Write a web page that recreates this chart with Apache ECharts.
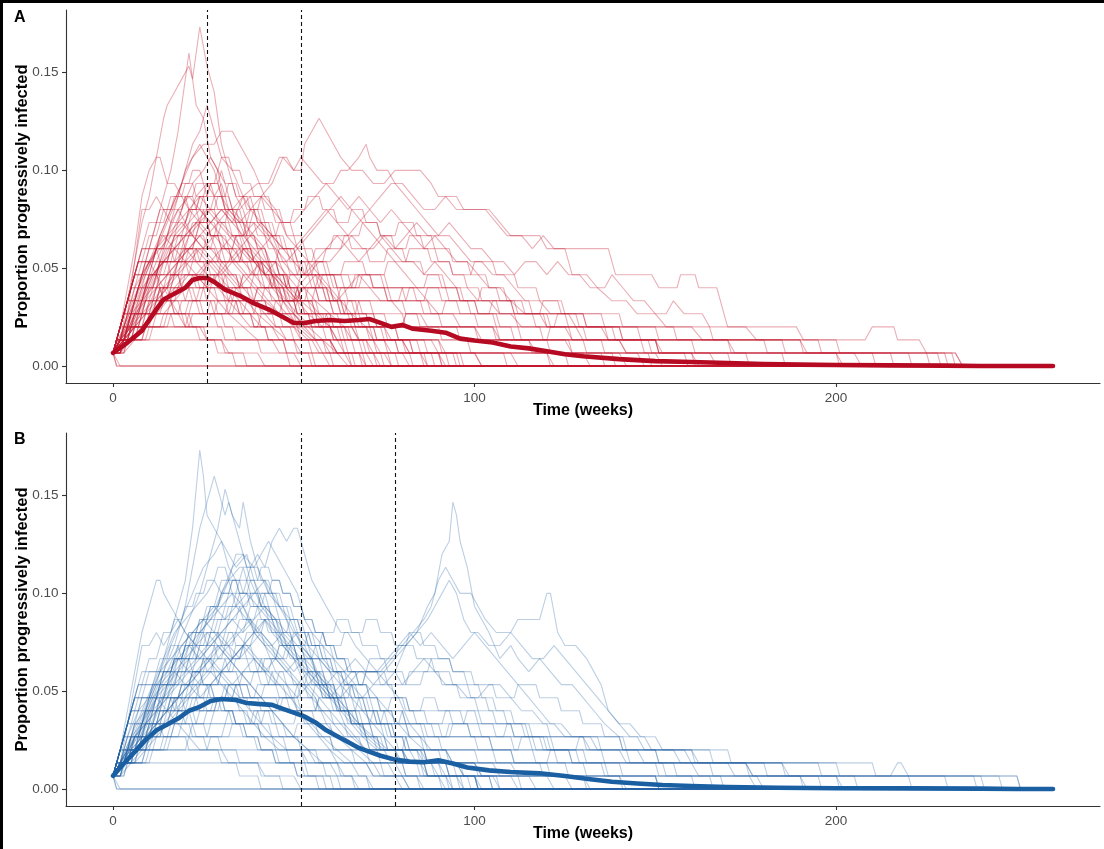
<!DOCTYPE html>
<html>
<head>
<meta charset="utf-8">
<script src="https://cdn.jsdelivr.net/npm/echarts@6/dist/echarts.min.js"></script>
<style>
  html, body { margin: 0; padding: 0; background: #fff; }
  #chart { width: 1104px; height: 849px; }
  #frame { position: absolute; left: 0; top: 0; width: 1104px; height: 849px;
           border-left: 3px solid #000; border-top: 3px solid #000;
           box-sizing: border-box; pointer-events: none; }
</style>
</head>
<body>
<div id="chart"></div>
<div id="frame"></div>
<script>
// Population size: simulated counts of progressively infected animals are divided by this.
const POP = 150;

// Tick labels
const xTicks = [0, 100, 200];
const yTicks = [0, 0.05, 0.10, 0.15];

// Vertical reference weeks for each scenario
const markWeeksA = [26, 52];
const markWeeksB = [52, 78];

// Mean trajectory, scenario A (week, proportion)
const meanWeeksA = [0, 4, 8, 12, 14, 16, 18, 20, 22, 24, 26, 28, 31, 35, 39, 43, 47, 50, 53, 56, 60, 64, 68, 71, 74, 77, 80, 83, 88, 92, 96, 100, 105, 110, 115, 120, 125, 130, 140, 150, 160, 170, 180, 190, 200, 215, 230, 240, 260];
const meanValuesA = [0.0067, 0.012, 0.018, 0.029, 0.034, 0.036, 0.038, 0.040, 0.044, 0.045, 0.045, 0.043, 0.039, 0.036, 0.032, 0.029, 0.025, 0.022, 0.022, 0.023, 0.0235, 0.023, 0.0235, 0.024, 0.022, 0.020, 0.021, 0.019, 0.018, 0.017, 0.014, 0.013, 0.012, 0.010, 0.009, 0.0075, 0.006, 0.005, 0.0035, 0.0025, 0.002, 0.0015, 0.001, 0.0007, 0.0005, 0.0003, 0.0002, 0, 0];

// Mean trajectory, scenario B (week, proportion)
const meanWeeksB = [0, 3, 6, 9, 12, 15, 18, 21, 24, 27, 30, 34, 37, 40, 44, 47, 50, 53, 56, 59, 62, 65, 68, 71, 74, 78, 82, 86, 90, 94, 98, 104, 110, 118, 125, 132, 138, 145, 152, 160, 170, 184, 200, 220, 240, 250, 260];
const meanValuesB = [0.0067, 0.013, 0.019, 0.025, 0.030, 0.033, 0.036, 0.040, 0.042, 0.045, 0.046, 0.0455, 0.044, 0.0435, 0.043, 0.041, 0.039, 0.037, 0.034, 0.030, 0.027, 0.024, 0.021, 0.019, 0.017, 0.015, 0.014, 0.0137, 0.0147, 0.013, 0.011, 0.0095, 0.0087, 0.008, 0.0066, 0.005, 0.0037, 0.0028, 0.002, 0.0015, 0.001, 0.0006, 0.0004, 0.0003, 0.0002, 0, 0];

// Individual simulation runs, scenario A: flat lists of week, count pairs
const runsA = [
  [0,1, 2,2, 4,4, 6,8, 8,11, 10,13, 12,16, 14,19, 15,20, 17,21, 19,22, 21,23, 22,22, 24,26, 26,23, 28,21, 30,17, 32,15, 34,13, 36,12, 38,10, 41,9, 44,7, 47,6, 50,4, 54,3, 58,2, 62,1, 65,0, 260,0],
  [0,1, 3,3, 6,5, 9,8, 12,11, 14,13, 16,15, 18,18, 20,22, 21,24, 23,20, 25,19, 27,16, 29,15, 31,12, 34,11, 37,9, 40,8, 44,6, 47,5, 51,3, 55,2, 60,2, 62,1, 70,1, 72,0, 260,0],
  [0,1, 2,1, 4,3, 7,5, 10,7, 13,10, 16,12, 19,14, 22,17, 24,18, 26,20, 28,18, 30,16, 33,15, 36,13, 38,13, 40,11, 43,10, 46,8, 49,6, 52,5, 56,4, 60,3, 66,3, 68,2, 80,2, 82,1, 95,1, 96,0, 260,0],
  [0,1, 3,2, 6,4, 9,6, 12,8, 15,10, 18,11, 21,12, 24,13, 27,12, 30,12, 33,11, 36,13, 40,14, 43,14, 46,16, 48,16, 50,15, 52,15, 53,17, 57,19, 59,18, 61,17, 63,16, 66,15, 69,15, 72,14, 75,14, 78,15, 82,15, 85,15, 88,14, 90,13, 95,13, 97,12, 100,12, 103,12, 106,11, 109,10, 113,10, 118,10, 120,9, 124,9, 127,9, 131,9, 134,9, 137,9, 139,7, 146,7, 149,7, 151,6, 156,6, 157,7, 161,7, 162,6, 167,6, 170,3, 181,3, 189,3, 191,2, 197,2, 200,2, 208,2, 210,3, 216,3, 217,2, 223,2, 225,1, 233,1, 235,0, 260,0],
  [0,1, 2,2, 5,3, 8,5, 11,7, 14,8, 17,9, 20,10, 23,11, 26,12, 29,11, 32,12, 35,12, 38,13, 41,13, 44,12, 47,11, 50,11, 53,12, 56,13, 59,14, 62,13, 65,12, 68,13, 71,12, 74,13, 77,14, 80,14, 83,13, 86,12, 89,12, 92,13, 95,12, 98,12, 101,12, 104,12, 107,11, 110,10, 113,10, 116,9, 119,10, 122,9, 125,9, 127,7, 131,7, 134,6, 138,5, 142,5, 145,4, 150,4, 153,3, 160,3, 163,2, 170,2, 172,1, 200,1, 202,0, 260,0],
  [0,1, 2,2, 4,3, 7,6, 10,8, 13,10, 16,12, 19,14, 22,16, 25,17, 28,17, 30,18, 33,18, 35,17, 37,16, 39,15, 42,13, 45,12, 48,10, 51,9, 54,8, 57,7, 60,6, 63,5, 66,4, 70,3, 75,3, 77,2, 88,2, 90,1, 100,1, 102,0, 260,0],
  [0,1, 3,2, 6,3, 9,4, 12,6, 15,7, 18,8, 21,9, 24,10, 27,11, 30,12, 33,12, 36,13, 38,12, 41,13, 44,14, 47,16, 50,15, 52,16, 55,15, 58,14, 61,14, 63,15, 65,15, 68,16, 70,17, 71,16, 73,15, 76,15, 78,14, 81,13, 84,12, 87,11, 90,10, 93,10, 96,9, 99,8, 102,8, 105,7, 108,7, 111,6, 114,5, 118,5, 121,4, 126,4, 128,3, 135,3, 137,2, 150,2, 152,1, 165,1, 167,0, 260,0],
  [0,1, 2,2, 5,4, 8,5, 11,7, 14,8, 17,9, 20,10, 23,11, 26,10, 29,11, 32,10, 35,9, 38,10, 41,11, 44,10, 47,9, 50,9, 53,10, 56,11, 59,12, 62,11, 65,10, 68,11, 71,12, 74,11, 77,12, 80,11, 83,10, 86,9, 89,10, 92,9, 95,8, 98,8, 101,7, 104,6, 107,6, 110,5, 114,4, 118,4, 120,3, 128,3, 130,2, 140,2, 142,1, 150,1, 152,0, 260,0],
  [0,1, 2,3, 4,6, 6,9, 8,13, 10,15, 12,16, 13,16, 15,14, 17,14, 19,13, 21,12, 24,11, 27,10, 30,8, 33,7, 36,6, 39,5, 42,4, 45,3, 50,3, 52,2, 58,2, 60,1, 64,1, 66,0, 260,0],
  [0,1, 2,2, 4,5, 6,8, 8,12, 10,12, 12,13, 14,12, 16,11, 18,12, 20,11, 22,10, 25,9, 28,8, 31,7, 34,6, 37,5, 40,4, 44,3, 48,2, 55,2, 57,1, 75,1, 77,0, 260,0],
  [0,1, 3,2, 6,4, 9,7, 12,9, 15,11, 18,13, 20,15, 22,16, 24,17, 26,16, 28,15, 30,13, 32,12, 35,11, 38,9, 41,8, 44,7, 47,5, 50,4, 53,3, 56,2, 62,2, 64,1, 80,1, 82,0, 260,0],
  [0,1, 2,1, 4,2, 7,4, 10,6, 13,8, 16,10, 19,12, 22,14, 25,15, 27,16, 29,15, 31,14, 33,12, 36,11, 39,10, 42,9, 45,7, 48,6, 51,5, 54,4, 58,3, 64,3, 66,2, 72,2, 74,1, 85,1, 87,0, 260,0],
  [0,1, 2,2, 5,3, 8,5, 11,6, 14,8, 17,10, 20,11, 23,13, 26,14, 28,13, 30,14, 32,12, 35,11, 38,12, 41,11, 44,10, 47,8, 50,7, 53,6, 56,5, 60,4, 64,3, 70,3, 72,2, 90,2, 92,1, 110,1, 112,0, 260,0],
  [0,1, 3,3, 6,5, 9,7, 12,9, 15,10, 18,12, 21,13, 24,12, 27,11, 30,10, 33,9, 36,8, 39,7, 42,6, 45,5, 48,4, 52,3, 56,2, 60,2, 62,1, 68,1, 70,0, 260,0],
  [0,1, 2,2, 4,4, 7,6, 10,8, 13,9, 16,10, 19,11, 22,10, 25,9, 28,10, 31,9, 34,8, 37,7, 40,6, 43,5, 46,4, 50,3, 54,2, 60,2, 62,1, 72,1, 74,0, 260,0],
  [0,1, 3,2, 6,3, 9,5, 12,6, 15,7, 18,8, 21,9, 24,10, 27,9, 30,8, 33,8, 36,7, 39,6, 42,5, 46,4, 50,4, 53,3, 60,3, 62,2, 70,2, 72,1, 90,1, 92,0, 260,0],
  [0,1, 2,2, 5,4, 8,6, 11,7, 14,8, 17,8, 20,9, 23,8, 26,7, 29,6, 32,5, 35,4, 38,3, 44,3, 46,2, 50,2, 52,1, 58,1, 60,0, 260,0],
  [0,1, 3,1, 6,2, 9,3, 12,5, 15,6, 18,8, 21,10, 24,11, 27,12, 30,11, 33,10, 36,9, 39,8, 42,7, 45,6, 48,5, 51,4, 55,3, 60,3, 62,2, 80,2, 82,1, 100,1, 102,0, 260,0],
  [0,1, 2,2, 4,3, 6,5, 8,7, 10,8, 12,9, 14,10, 17,9, 20,8, 23,7, 26,6, 29,5, 32,4, 36,3, 40,2, 44,2, 46,1, 50,1, 52,0, 260,0],
  [0,1, 3,2, 6,4, 9,5, 12,7, 15,9, 18,10, 21,11, 24,12, 27,11, 30,12, 33,11, 36,10, 39,9, 42,8, 45,7, 48,6, 51,5, 54,5, 57,4, 60,3, 66,3, 68,2, 75,2, 77,1, 120,1, 122,0, 260,0],
  [0,1, 2,2, 4,4, 6,6, 8,7, 10,8, 12,7, 14,6, 16,5, 18,4, 20,3, 24,3, 26,2, 30,2, 32,1, 40,1, 42,0, 260,0],
  [0,1, 2,2, 5,3, 8,4, 11,5, 14,6, 17,7, 20,8, 23,9, 26,8, 29,7, 32,6, 35,5, 38,4, 41,3, 46,3, 48,2, 56,2, 58,1, 140,1, 142,0, 260,0],
  [0,1, 3,2, 6,3, 9,3, 12,4, 15,5, 18,6, 21,7, 24,7, 27,8, 30,9, 33,10, 36,10, 39,11, 42,10, 45,9, 48,8, 51,9, 54,10, 57,11, 60,12, 63,13, 66,12, 69,11, 72,10, 75,9, 78,8, 81,7, 84,6, 87,5, 90,4, 94,4, 96,3, 105,3, 107,2, 125,2, 127,1, 145,1, 147,0, 260,0],
  [0,1, 2,2, 5,2, 8,3, 11,4, 14,5, 17,6, 20,7, 23,7, 26,6, 29,7, 32,8, 35,9, 38,8, 41,9, 44,10, 47,9, 50,8, 53,7, 56,8, 59,9, 62,10, 65,9, 68,8, 71,9, 74,10, 77,9, 80,8, 83,8, 86,7, 89,8, 92,7, 95,6, 98,6, 101,5, 104,5, 107,4, 110,4, 113,3, 125,3, 127,2, 140,2, 142,1, 160,1, 162,0, 260,0],
  [0,1, 3,2, 6,3, 9,4, 12,5, 15,6, 18,7, 21,8, 24,9, 27,8, 30,7, 33,8, 36,9, 39,8, 42,7, 45,8, 48,7, 51,6, 54,7, 57,8, 60,8, 63,9, 66,10, 69,9, 72,9, 75,10, 78,9, 81,10, 84,11, 87,10, 90,10, 93,11, 96,10, 99,9, 102,9, 105,8, 108,8, 111,7, 114,8, 117,8, 120,7, 123,8, 126,7, 129,7, 132,6, 136,6, 138,7, 141,6, 144,5, 147,5, 150,4, 153,4, 155,5, 158,4, 163,4, 165,3, 175,3, 178,2, 190,2, 192,1, 205,1, 207,0, 260,0],
  [0,1, 2,1, 5,2, 8,3, 11,4, 14,4, 17,5, 20,6, 23,7, 26,8, 29,8, 32,7, 35,6, 38,7, 41,8, 44,7, 47,6, 50,5, 53,6, 56,7, 59,6, 62,5, 65,6, 68,7, 71,6, 74,5, 77,5, 80,4, 85,4, 87,3, 100,3, 102,2, 115,2, 117,1, 130,1, 132,0, 260,0],
  [0,1, 1,2, 3,2, 4,3, 30,3, 31,2, 90,2, 91,1, 175,1, 176,0, 260,0],
  [0,1, 1,0, 260,0],
  [0,1, 2,1, 3,2, 4,3, 5,4, 40,4, 41,3, 70,3, 71,2, 130,2, 131,1, 220,1, 221,0, 260,0],
  [0,1, 1,2, 2,3, 3,4, 4,5, 55,5, 56,4, 80,4, 81,3, 110,3, 111,2, 180,2, 181,1, 233,1, 235,0, 260,0],
  [0,1, 1,2, 2,3, 3,4, 4,5, 5,6, 6,7, 7,8, 40,8, 41,7, 60,7, 61,6, 75,6, 76,5, 100,5, 101,4, 120,4, 121,3, 150,3, 151,2, 200,2, 201,1, 230,1, 231,0, 260,0],
  [0,1, 1,2, 2,3, 3,4, 4,5, 5,6, 30,6, 31,5, 50,5, 51,4, 65,4, 66,3, 95,3, 96,2, 160,2, 161,1, 215,1, 216,0, 260,0],
  [0,1, 1,1, 2,2, 50,2, 51,1, 120,1, 121,0, 260,0],
  [0,1, 1,2, 2,3, 3,4, 4,5, 5,6, 6,7, 25,7, 26,6, 45,6, 46,5, 85,5, 86,4, 125,4, 126,3, 145,3, 146,2, 190,2, 191,1, 228,1, 229,0, 260,0],
  [0,1, 2,0, 260,0],
  [0,1, 1,2, 2,3, 3,4, 60,4, 61,3, 100,3, 101,2, 150,2, 151,1, 200,1, 201,0, 260,0],
  [0,1, 1,2, 3,2, 4,3, 6,3, 7,4, 9,4, 10,5, 12,5, 13,6, 14,5, 16,5, 17,6, 19,6, 20,7, 22,7, 23,6, 25,6, 26,5, 28,5, 29,4, 31,4, 32,5, 34,5, 35,4, 38,4, 39,3, 42,3, 43,2, 47,2, 48,1, 55,1, 56,0, 260,0],
  [0,1, 1,2, 2,3, 3,4, 5,4, 6,5, 7,6, 9,6, 10,7, 12,7, 13,8, 15,8, 16,9, 17,8, 19,8, 20,9, 22,9, 23,10, 25,10, 26,9, 28,9, 29,8, 31,8, 32,7, 34,7, 35,6, 37,6, 38,5, 40,5, 41,4, 44,4, 45,3, 49,3, 50,2, 54,2, 55,1, 60,1, 61,0, 260,0],
  [0,1, 2,1, 3,2, 5,2, 6,3, 8,3, 9,4, 11,4, 12,5, 13,6, 15,6, 16,7, 18,7, 19,8, 20,9, 22,9, 23,10, 24,11, 26,11, 27,10, 29,10, 30,9, 32,9, 33,8, 35,8, 36,9, 38,9, 39,8, 41,8, 42,7, 45,7, 46,6, 48,6, 49,5, 52,5, 53,4, 56,4, 57,3, 62,3, 63,2, 70,2, 71,1, 78,1, 79,0, 260,0],
  [0,1, 1,2, 2,3, 3,4, 4,5, 6,5, 7,6, 8,7, 10,7, 11,8, 12,9, 14,9, 15,10, 16,11, 18,11, 19,12, 20,13, 22,13, 23,12, 25,12, 26,11, 28,11, 29,10, 31,10, 32,9, 34,9, 35,8, 37,8, 38,7, 40,7, 41,6, 43,6, 44,5, 46,5, 47,4, 50,4, 51,3, 55,3, 56,2, 60,2, 61,1, 66,1, 67,0, 260,0],
  [0,1, 2,2, 4,2, 5,3, 7,3, 8,4, 10,4, 11,5, 13,5, 14,6, 16,6, 17,7, 18,8, 20,8, 21,9, 23,9, 24,8, 26,8, 27,7, 29,7, 30,8, 32,8, 33,9, 35,9, 36,8, 38,8, 39,7, 41,7, 42,6, 44,6, 45,7, 47,7, 48,6, 50,6, 51,5, 53,5, 54,6, 56,6, 57,5, 60,5, 61,4, 64,4, 65,5, 67,5, 68,4, 72,4, 73,3, 78,3, 79,2, 86,2, 87,1, 96,1, 97,0, 260,0],
  [0,1, 2,2, 4,2, 5,3, 8,3, 9,4, 12,4, 13,5, 16,5, 17,4, 20,4, 21,5, 24,5, 25,6, 28,6, 29,5, 32,5, 33,6, 35,6, 36,7, 39,7, 40,8, 43,8, 44,7, 47,7, 48,6, 51,6, 52,7, 55,7, 56,8, 59,8, 60,7, 63,7, 64,6, 67,6, 68,7, 71,7, 72,6, 75,6, 76,5, 79,5, 80,6, 83,6, 84,5, 87,5, 88,4, 91,4, 92,5, 95,5, 96,4, 100,4, 101,3, 106,3, 107,2, 115,2, 116,1, 125,1, 126,0, 260,0],
  [0,1, 1,2, 3,2, 4,3, 6,3, 7,4, 9,4, 10,5, 12,5, 13,6, 15,6, 16,7, 18,7, 19,6, 22,6, 23,5, 26,5, 27,6, 30,6, 31,7, 34,7, 35,6, 38,6, 39,5, 42,5, 43,4, 46,4, 47,5, 50,5, 51,4, 54,4, 55,3, 58,3, 59,4, 62,4, 63,3, 67,3, 68,2, 75,2, 76,1, 85,1, 86,0, 260,0],
  [0,1, 1,2, 2,3, 4,3, 5,4, 6,5, 8,5, 9,6, 10,7, 12,7, 13,8, 15,8, 16,9, 18,9, 19,10, 21,10, 22,11, 24,11, 25,12, 27,12, 28,13, 30,13, 31,12, 33,12, 34,11, 36,11, 37,10, 39,10, 40,9, 42,9, 43,8, 45,8, 46,7, 48,7, 49,6, 51,6, 52,5, 55,5, 56,4, 59,4, 60,3, 64,3, 65,2, 69,2, 70,1, 74,1, 75,0, 260,0],
  [0,1, 2,1, 3,2, 8,2, 9,3, 14,3, 15,4, 20,4, 21,3, 26,3, 27,4, 32,4, 33,5, 38,5, 39,4, 44,4, 45,5, 50,5, 51,6, 56,6, 57,5, 62,5, 63,6, 68,6, 69,7, 74,7, 75,6, 80,6, 81,5, 86,5, 87,6, 92,6, 93,5, 98,5, 99,4, 104,4, 105,5, 110,5, 111,4, 116,4, 117,3, 122,3, 123,4, 128,4, 129,3, 136,3, 137,2, 146,2, 147,1, 160,1, 161,0, 260,0],
  [0,1, 1,2, 2,3, 3,4, 4,5, 5,6, 7,6, 8,7, 9,8, 11,8, 12,9, 13,10, 15,10, 16,11, 17,12, 19,12, 20,13, 22,13, 23,14, 25,14, 26,13, 28,13, 29,12, 31,12, 32,11, 34,11, 35,10, 37,10, 38,9, 40,9, 41,8, 43,8, 44,7, 46,7, 47,6, 49,6, 50,5, 52,5, 53,4, 56,4, 57,3, 60,3, 61,2, 64,2, 65,1, 69,1, 70,0, 260,0],
  [0,1, 1,2, 2,3, 3,4, 4,5, 5,6, 6,7, 7,8, 9,8, 10,9, 12,9, 13,8, 15,8, 16,7, 18,7, 19,6, 21,6, 22,5, 24,5, 25,4, 28,4, 29,3, 33,3, 34,2, 40,2, 41,1, 48,1, 49,0, 260,0],
  [0,1, 2,2, 4,2, 5,3, 7,3, 8,4, 10,4, 11,5, 13,5, 14,6, 16,6, 17,7, 19,7, 20,8, 22,8, 23,9, 25,9, 26,10, 28,10, 29,11, 31,11, 32,12, 34,12, 35,11, 37,11, 38,12, 40,12, 41,11, 43,11, 44,10, 46,10, 47,9, 49,9, 50,8, 52,8, 53,7, 55,7, 56,6, 58,6, 59,5, 62,5, 63,4, 66,4, 67,3, 72,3, 73,2, 80,2, 81,1, 90,1, 91,0, 260,0],
  [0,1, 2,2, 5,2, 6,3, 10,3, 11,4, 15,4, 16,5, 20,5, 21,6, 25,6, 26,7, 30,7, 31,6, 35,6, 36,7, 40,7, 41,8, 45,8, 46,9, 50,9, 51,8, 55,8, 56,9, 60,9, 61,10, 65,10, 66,9, 70,9, 71,8, 75,8, 76,9, 80,9, 81,8, 85,8, 86,7, 90,7, 91,6, 95,6, 96,5, 100,5, 101,4, 106,4, 107,3, 112,3, 113,2, 120,2, 121,1, 135,1, 136,0, 260,0],
  [0,1, 1,2, 2,3, 3,4, 4,5, 6,5, 7,6, 9,6, 10,7, 12,7, 13,6, 15,6, 16,5, 18,5, 19,4, 21,4, 22,3, 25,3, 26,2, 30,2, 31,1, 36,1, 37,0, 260,0],
  [0,1, 1,2, 3,2, 4,3, 5,4, 7,4, 8,5, 9,6, 11,6, 12,7, 13,8, 15,8, 16,9, 17,10, 19,10, 20,11, 21,12, 23,12, 24,13, 26,13, 27,14, 29,14, 30,15, 31,14, 33,14, 34,13, 36,13, 37,12, 39,12, 40,11, 42,11, 43,10, 45,10, 46,9, 48,9, 49,8, 51,8, 52,7, 54,7, 55,6, 58,6, 59,5, 62,5, 63,4, 66,4, 67,3, 71,3, 72,2, 78,2, 79,1, 88,1, 89,0, 260,0],
  [0,1, 3,1, 4,2, 9,2, 10,3, 15,3, 16,4, 21,4, 22,5, 27,5, 28,4, 33,4, 34,5, 39,5, 40,6, 45,6, 46,5, 51,5, 52,6, 57,6, 58,7, 63,7, 64,8, 69,8, 70,7, 75,7, 76,8, 81,8, 82,9, 87,9, 88,8, 93,8, 94,7, 99,7, 100,8, 105,8, 106,7, 111,7, 112,6, 117,6, 118,5, 123,5, 124,4, 130,4, 131,3, 140,3, 141,2, 150,2, 151,1, 170,1, 171,0, 260,0],
  [0,1, 1,2, 2,3, 3,4, 4,5, 5,6, 6,7, 7,8, 8,9, 10,9, 11,10, 12,11, 14,11, 15,12, 17,12, 18,13, 20,13, 21,12, 23,12, 24,11, 26,11, 27,10, 29,10, 30,11, 32,11, 33,10, 35,10, 36,9, 38,9, 39,8, 41,8, 42,7, 44,7, 45,6, 47,6, 48,5, 51,5, 52,4, 55,4, 56,3, 60,3, 61,2, 66,2, 67,1, 72,1, 73,0, 260,0],
  [0,1, 2,2, 3,3, 5,3, 6,4, 8,4, 9,5, 11,5, 12,6, 14,6, 15,7, 17,7, 18,8, 20,8, 21,7, 23,7, 24,6, 26,6, 27,7, 29,7, 30,6, 32,6, 33,5, 35,5, 36,4, 39,4, 40,5, 42,5, 43,4, 46,4, 47,3, 51,3, 52,2, 58,2, 59,1, 65,1, 66,0, 260,0],
  [0,1, 1,2, 3,2, 4,3, 7,3, 8,4, 11,4, 12,5, 15,5, 16,6, 19,6, 20,5, 23,5, 24,6, 27,6, 28,7, 31,7, 32,6, 35,6, 36,5, 39,5, 40,6, 43,6, 44,7, 47,7, 48,6, 51,6, 52,5, 55,5, 56,6, 59,6, 60,5, 63,5, 64,4, 67,4, 68,5, 71,5, 72,4, 75,4, 76,3, 80,3, 81,4, 84,4, 85,3, 90,3, 91,2, 98,2, 99,1, 108,1, 109,0, 260,0],
  [0,1, 1,2, 2,3, 3,4, 4,5, 5,6, 6,7, 7,8, 8,9, 9,10, 10,11, 12,11, 13,12, 15,12, 16,13, 18,13, 19,14, 21,14, 22,15, 24,15, 25,14, 27,14, 28,13, 30,13, 31,12, 33,12, 34,11, 36,11, 37,10, 39,10, 40,9, 42,9, 43,8, 45,8, 46,7, 48,7, 49,6, 51,6, 52,5, 54,5, 55,4, 58,4, 59,3, 63,3, 64,2, 68,2, 69,1, 76,1, 77,0, 260,0],
  [0,1, 2,1, 3,2, 6,2, 7,3, 9,3, 10,4, 12,4, 13,5, 15,5, 16,6, 18,6, 19,7, 21,7, 22,8, 24,8, 25,9, 27,9, 28,10, 30,10, 31,9, 33,9, 34,10, 36,10, 37,11, 39,11, 40,10, 42,10, 43,9, 45,9, 46,8, 48,8, 49,7, 51,7, 52,8, 54,8, 55,7, 57,7, 58,6, 60,6, 61,5, 64,5, 65,4, 68,4, 69,3, 74,3, 75,2, 82,2, 83,1, 94,1, 95,0, 260,0],
  [0,1, 2,2, 6,2, 7,3, 11,3, 12,4, 16,4, 17,3, 21,3, 22,4, 26,4, 27,5, 31,5, 32,4, 36,4, 37,5, 41,5, 42,6, 46,6, 47,5, 51,5, 52,6, 56,6, 57,7, 61,7, 62,6, 66,6, 67,7, 71,7, 72,6, 76,6, 77,5, 81,5, 82,6, 86,6, 87,7, 91,7, 92,6, 96,6, 97,5, 101,5, 102,6, 106,6, 107,5, 111,5, 112,4, 118,4, 119,5, 124,5, 125,4, 130,4, 131,3, 138,3, 139,2, 148,2, 149,1, 158,1, 159,0, 260,0],
  [0,1, 1,2, 2,3, 3,4, 5,4, 6,5, 8,5, 9,6, 10,7, 12,7, 13,8, 14,9, 16,9, 17,10, 19,10, 20,9, 22,9, 23,8, 25,8, 26,7, 28,7, 29,6, 31,6, 32,5, 34,5, 35,4, 38,4, 39,3, 42,3, 43,2, 47,2, 48,1, 54,1, 55,0, 260,0],
  [0,1, 2,2, 4,2, 5,3, 6,4, 8,4, 9,5, 11,5, 12,6, 13,7, 15,7, 16,8, 18,8, 19,9, 20,10, 22,10, 23,11, 25,11, 26,12, 28,12, 29,13, 31,13, 32,14, 34,14, 35,13, 37,13, 38,12, 40,12, 41,13, 43,13, 44,12, 46,12, 47,11, 49,11, 50,10, 52,10, 53,9, 55,9, 56,8, 58,8, 59,7, 61,7, 62,6, 64,6, 65,5, 68,5, 69,4, 72,4, 73,3, 78,3, 79,2, 84,2, 85,1, 92,1, 93,0, 260,0],
  [0,1, 3,1, 4,2, 8,2, 9,3, 13,3, 14,4, 18,4, 19,5, 23,5, 24,4, 28,4, 29,5, 33,5, 34,6, 38,6, 39,7, 43,7, 44,6, 48,6, 49,7, 53,7, 54,8, 58,8, 59,9, 63,9, 64,10, 68,10, 69,11, 73,11, 74,10, 78,10, 79,11, 83,11, 84,10, 88,10, 89,9, 93,9, 94,8, 98,8, 99,7, 103,7, 104,6, 108,6, 109,5, 113,5, 114,4, 119,4, 120,3, 126,3, 127,2, 135,2, 136,1, 148,1, 149,0, 260,0],
  [0,1, 1,2, 2,3, 4,3, 5,4, 7,4, 8,5, 10,5, 11,6, 13,6, 14,5, 16,5, 17,4, 19,4, 20,3, 23,3, 24,2, 28,2, 29,1, 33,1, 34,0, 260,0],
  [0,1, 1,2, 2,3, 3,4, 4,5, 5,6, 6,7, 8,7, 9,8, 11,8, 12,9, 14,9, 15,10, 17,10, 18,11, 20,11, 21,12, 23,12, 24,13, 26,13, 27,14, 29,14, 30,13, 32,13, 33,12, 35,12, 36,11, 38,11, 39,12, 41,12, 42,11, 44,11, 45,10, 47,10, 48,9, 50,9, 51,8, 53,8, 54,7, 56,7, 57,6, 59,6, 60,5, 63,5, 64,4, 67,4, 68,3, 72,3, 73,2, 78,2, 79,1, 86,1, 87,0, 260,0],
  [0,1, 2,1, 3,2, 10,2, 11,3, 20,3, 21,4, 30,4, 31,3, 40,3, 41,4, 50,4, 51,5, 60,5, 61,4, 70,4, 71,3, 80,3, 81,4, 90,4, 91,3, 105,3, 106,2, 120,2, 121,3, 130,3, 131,2, 150,2, 151,1, 185,1, 186,0, 260,0],
  [0,1, 1,2, 3,2, 4,3, 5,4, 7,4, 8,5, 9,6, 11,6, 12,7, 14,7, 15,8, 17,8, 18,9, 20,9, 21,10, 23,10, 24,11, 26,11, 27,10, 29,10, 30,9, 32,9, 33,8, 35,8, 36,9, 38,9, 39,8, 41,8, 42,7, 44,7, 45,6, 47,6, 48,5, 50,5, 51,6, 53,6, 54,5, 56,5, 57,4, 60,4, 61,3, 65,3, 66,2, 72,2, 73,1, 82,1, 83,0, 260,0],
  [0,1, 2,2, 3,3, 4,4, 5,5, 6,6, 7,7, 8,8, 9,9, 10,10, 12,10, 13,11, 14,12, 16,12, 17,13, 19,13, 20,14, 22,14, 23,13, 25,13, 26,12, 28,12, 29,11, 31,11, 32,10, 34,10, 35,9, 37,9, 38,8, 40,8, 41,7, 43,7, 44,6, 46,6, 47,5, 50,5, 51,4, 54,4, 55,3, 58,3, 59,2, 63,2, 64,1, 68,1, 69,0, 260,0],
  [0,1, 2,2, 5,2, 6,3, 9,3, 10,4, 13,4, 14,5, 17,5, 18,6, 21,6, 22,7, 25,7, 26,8, 29,8, 30,9, 33,9, 34,10, 37,10, 38,11, 41,11, 42,10, 45,10, 46,11, 49,11, 50,12, 53,12, 54,13, 57,13, 58,12, 61,12, 62,11, 65,11, 66,12, 69,12, 70,11, 73,11, 74,10, 77,10, 78,9, 81,9, 82,10, 85,10, 86,9, 89,9, 90,8, 93,8, 94,7, 97,7, 98,6, 101,6, 102,5, 106,5, 107,4, 111,4, 112,3, 118,3, 119,2, 126,2, 127,1, 138,1, 139,0, 260,0],
  [0,1, 1,0, 260,0],
  [0,1, 1,2, 2,3, 3,4, 4,5, 5,6, 6,7, 7,8, 8,9, 30,9, 31,8, 45,8, 46,7, 65,7, 66,6, 90,6, 91,5, 110,5, 111,4, 135,4, 136,3, 155,3, 156,2, 185,2, 186,1, 225,1, 226,0, 260,0],
  [0,1, 1,2, 2,3, 3,4, 4,5, 5,6, 6,7, 35,7, 36,6, 60,6, 61,5, 80,5, 81,4, 105,4, 106,3, 140,3, 141,2, 170,2, 171,1, 210,1, 211,0, 260,0],
  [0,1, 1,2, 2,3, 3,4, 4,5, 5,6, 6,7, 7,8, 50,8, 51,7, 75,7, 76,6, 95,6, 96,5, 115,5, 116,4, 140,4, 141,3, 165,3, 166,2, 195,2, 196,1, 232,1, 233,0, 260,0],
  [0,1, 2,2, 4,2, 5,3, 6,4, 8,4, 9,5, 10,6, 12,6, 13,7, 14,8, 16,8, 17,9, 18,10, 20,10, 21,11, 22,12, 24,12, 25,13, 26,14, 28,14, 29,15, 30,16, 32,16, 33,15, 35,15, 36,14, 38,14, 39,13, 41,13, 42,12, 44,12, 45,11, 47,11, 48,10, 50,10, 51,9, 53,9, 54,8, 56,8, 57,7, 59,7, 60,6, 62,6, 63,5, 66,5, 67,4, 70,4, 71,3, 75,3, 76,2, 82,2, 83,1, 90,1, 91,0, 260,0]
];

// Individual simulation runs, scenario B: flat lists of week, count pairs
const runsB = [
  [0,1, 3,2, 6,4, 9,6, 12,8, 15,11, 18,14, 20,16, 22,20, 23,23, 24,26, 25,24, 26,21, 28,20, 30,19, 32,17, 34,16, 36,14, 39,12, 42,11, 45,9, 48,8, 51,6, 54,5, 57,4, 60,3, 64,2, 70,2, 72,1, 80,1, 82,0, 260,0],
  [0,1, 2,1, 5,3, 8,5, 11,7, 14,9, 17,11, 20,14, 22,17, 24,20, 26,22, 28,24, 29,23, 31,21, 32,22, 34,20, 36,18, 38,16, 41,14, 44,13, 47,11, 50,10, 53,8, 56,7, 59,5, 62,4, 66,3, 70,2, 76,2, 78,1, 90,1, 92,0, 260,0],
  [0,1, 3,2, 6,3, 9,5, 12,7, 15,9, 18,11, 21,13, 24,15, 27,18, 29,20, 31,23, 33,21, 35,20, 36,22, 38,19, 40,17, 43,15, 46,14, 49,13, 52,11, 55,10, 58,8, 61,7, 64,5, 67,4, 70,3, 75,3, 77,2, 85,2, 87,1, 95,1, 97,0, 260,0],
  [0,1, 2,2, 5,3, 8,4, 11,6, 14,7, 17,9, 20,10, 23,11, 26,13, 29,14, 32,16, 35,17, 38,17, 40,18, 42,17, 44,19, 46,20, 48,19, 50,20, 51,20, 53,18, 55,16, 57,15, 59,14, 61,13, 63,12, 65,12, 67,11, 70,10, 73,9, 76,8, 79,7, 82,5, 85,4, 88,3, 92,3, 94,2, 100,2, 102,1, 115,1, 117,0, 260,0],
  [0,1, 3,2, 6,4, 9,5, 12,6, 15,8, 18,9, 21,11, 24,12, 27,13, 30,15, 33,17, 36,18, 39,17, 41,18, 43,19, 45,18, 47,17, 49,16, 51,15, 53,13, 55,12, 58,11, 61,10, 64,9, 67,8, 70,8, 73,7, 76,6, 79,5, 82,4, 86,3, 92,3, 94,2, 105,2, 107,1, 125,1, 127,0, 260,0],
  [0,1, 2,2, 4,3, 7,5, 10,7, 13,9, 16,11, 19,13, 22,15, 25,17, 28,18, 30,19, 32,18, 34,17, 37,18, 39,16, 42,14, 45,13, 48,11, 51,10, 54,8, 57,7, 60,6, 63,5, 66,4, 70,3, 78,3, 80,2, 95,2, 97,1, 110,1, 112,0, 260,0],
  [0,1, 2,3, 4,6, 6,9, 8,12, 10,14, 12,16, 13,16, 14,15, 16,14, 18,13, 20,12, 23,11, 26,10, 29,9, 32,8, 35,7, 38,6, 41,5, 44,4, 48,3, 54,3, 56,2, 62,2, 64,1, 70,1, 72,0, 260,0],
  [0,1, 2,2, 4,5, 6,8, 8,11, 10,11, 12,12, 14,11, 16,12, 18,13, 20,12, 23,11, 26,12, 29,11, 32,10, 35,9, 38,8, 41,7, 44,6, 47,5, 50,4, 54,3, 58,2, 66,2, 68,1, 78,1, 80,0, 260,0],
  [0,1, 3,2, 6,3, 9,4, 12,5, 15,6, 18,7, 21,8, 24,9, 27,10, 30,9, 33,10, 36,11, 39,10, 42,9, 45,10, 48,9, 51,8, 54,9, 57,8, 60,7, 63,8, 66,9, 69,9, 72,8, 75,8, 78,9, 81,11, 84,12, 87,14, 89,15, 91,18, 93,19, 94,22, 95,21, 96,19, 98,17, 100,14, 102,13, 104,12, 107,10, 110,11, 112,10, 115,9, 118,10, 121,9, 124,8, 127,8, 130,7, 133,6, 136,5, 140,4, 145,4, 147,3, 155,3, 157,2, 175,2, 177,1, 190,1, 192,0, 260,0],
  [0,1, 2,1, 5,2, 8,3, 11,4, 14,5, 17,6, 20,7, 23,8, 26,9, 29,10, 32,11, 35,10, 38,11, 41,12, 44,11, 47,10, 50,9, 53,10, 56,9, 59,8, 62,9, 65,8, 68,9, 71,9, 74,9, 77,10, 80,11, 83,12, 86,13, 88,14, 90,16, 92,17, 94,16, 96,15, 99,15, 101,14, 103,13, 106,12, 108,12, 110,12, 112,13, 115,13, 118,13, 120,15, 121,15, 123,12, 125,11, 128,11, 131,10, 133,9, 135,8, 137,6, 140,5, 143,5, 146,4, 150,4, 152,3, 160,3, 162,2, 185,2, 187,1, 200,1, 202,0, 260,0],
  [0,1, 3,2, 6,2, 9,3, 12,4, 15,5, 18,6, 21,7, 24,8, 27,8, 30,9, 33,8, 36,9, 39,10, 42,9, 45,8, 48,8, 51,7, 54,8, 57,9, 60,8, 63,7, 66,8, 69,7, 72,8, 75,9, 78,10, 81,11, 84,12, 87,13, 89,14, 91,15, 93,16, 95,15, 97,13, 99,12, 101,12, 104,11, 107,11, 110,12, 113,11, 116,10, 119,10, 122,11, 125,10, 128,9, 131,8, 134,7, 137,6, 140,5, 143,4, 147,4, 149,3, 158,3, 160,2, 170,2, 172,1, 178,1, 180,0, 260,0],
  [0,1, 2,2, 5,3, 8,4, 11,5, 14,7, 17,8, 20,9, 23,10, 26,11, 29,12, 32,11, 35,12, 38,13, 41,12, 44,11, 47,12, 50,11, 52,11, 55,10, 58,10, 61,9, 64,9, 67,10, 70,9, 73,9, 76,10, 79,11, 82,12, 85,11, 88,12, 91,11, 94,10, 97,11, 100,12, 103,11, 106,10, 109,9, 112,8, 115,7, 118,6, 121,5, 124,5, 127,4, 132,4, 134,3, 145,3, 147,2, 160,2, 162,1, 176,1, 178,0, 260,0],
  [0,1, 3,2, 6,3, 9,5, 12,6, 15,7, 18,8, 21,9, 24,10, 27,11, 30,12, 33,13, 36,12, 39,13, 42,14, 45,13, 48,12, 51,11, 54,10, 57,10, 60,9, 63,9, 66,9, 69,9, 72,9, 75,9, 78,9, 80,8, 83,9, 86,10, 89,9, 92,8, 95,8, 98,7, 101,7, 104,8, 107,8, 110,7, 113,6, 116,6, 119,5, 122,5, 125,4, 130,4, 132,3, 140,3, 142,2, 175,2, 177,1, 215,1, 217,2, 218,2, 220,1, 250,1, 251,0, 260,0],
  [0,1, 2,2, 5,4, 8,6, 11,8, 14,10, 17,12, 20,13, 23,14, 26,15, 28,16, 30,15, 32,16, 34,14, 37,13, 40,12, 43,11, 46,10, 49,9, 52,8, 55,7, 58,6, 61,5, 64,4, 68,3, 72,2, 78,2, 80,1, 92,1, 94,0, 260,0],
  [0,1, 3,2, 6,3, 9,4, 12,6, 15,7, 18,9, 21,10, 24,12, 27,13, 30,14, 33,15, 36,14, 39,15, 42,16, 44,15, 46,14, 48,13, 50,12, 53,11, 56,9, 59,8, 62,7, 65,6, 68,5, 71,4, 75,3, 82,3, 84,2, 95,2, 97,1, 105,1, 107,0, 260,0],
  [0,1, 2,2, 4,3, 7,4, 10,6, 13,8, 16,9, 19,11, 22,12, 25,13, 28,12, 31,11, 34,12, 37,11, 40,10, 43,9, 46,8, 49,7, 52,6, 55,5, 58,4, 62,3, 66,2, 72,2, 74,1, 84,1, 86,0, 260,0],
  [0,1, 3,2, 6,4, 9,5, 12,7, 15,8, 18,10, 21,11, 24,10, 27,11, 30,12, 33,13, 36,14, 38,13, 40,12, 42,13, 44,12, 47,11, 50,10, 53,9, 56,8, 59,7, 62,7, 65,6, 68,5, 72,4, 76,3, 84,3, 86,2, 100,2, 102,1, 120,1, 122,0, 260,0],
  [0,1, 2,2, 4,3, 6,5, 9,6, 12,8, 15,9, 18,10, 21,9, 24,8, 27,9, 30,8, 33,7, 36,6, 39,5, 42,4, 46,3, 52,3, 54,2, 60,2, 62,1, 66,1, 68,0, 260,0],
  [0,1, 3,2, 6,3, 9,4, 12,5, 15,6, 18,7, 21,8, 24,9, 27,10, 30,11, 33,10, 36,11, 39,12, 42,11, 45,10, 48,9, 51,10, 54,9, 57,8, 60,7, 63,6, 66,5, 69,4, 73,3, 80,3, 82,2, 90,2, 92,1, 140,1, 142,0, 260,0],
  [0,1, 2,2, 5,4, 8,5, 11,7, 14,8, 17,9, 20,8, 23,9, 26,10, 29,11, 32,10, 35,9, 38,8, 41,7, 44,6, 47,5, 50,4, 54,3, 60,3, 62,2, 70,2, 72,1, 80,1, 82,0, 260,0],
  [0,1, 2,2, 4,3, 6,4, 8,5, 10,6, 12,7, 15,6, 18,5, 21,4, 24,3, 30,3, 32,2, 40,2, 42,1, 50,1, 52,0, 260,0],
  [0,1, 3,2, 6,3, 9,4, 12,5, 15,6, 18,7, 21,8, 24,7, 27,8, 30,9, 33,10, 36,11, 39,12, 42,13, 45,12, 48,11, 51,12, 54,11, 57,10, 60,9, 63,8, 66,7, 69,6, 72,5, 75,4, 78,3, 85,3, 87,2, 110,2, 112,1, 130,1, 132,0, 260,0],
  [0,1, 2,2, 4,4, 7,6, 10,7, 13,9, 16,10, 19,11, 22,12, 25,13, 28,14, 31,13, 34,14, 37,15, 40,14, 43,13, 46,12, 49,11, 52,10, 55,9, 58,8, 61,7, 64,6, 67,5, 70,4, 74,3, 80,3, 82,2, 88,2, 90,1, 100,1, 102,0, 260,0],
  [0,1, 1,0, 260,0],
  [0,1, 1,2, 2,3, 3,4, 4,5, 45,5, 46,4, 70,4, 71,3, 100,3, 101,2, 150,2, 151,1, 200,1, 201,0, 260,0],
  [0,1, 1,2, 2,3, 3,4, 4,5, 5,6, 6,7, 50,7, 51,6, 70,6, 71,5, 90,5, 91,4, 130,4, 131,3, 160,3, 161,2, 195,2, 196,1, 245,1, 246,0, 260,0],
  [0,1, 1,2, 2,3, 70,3, 71,2, 120,2, 121,1, 230,1, 231,0, 260,0],
  [0,1, 1,1, 2,2, 3,3, 4,4, 60,4, 61,3, 110,3, 111,2, 185,2, 186,1, 250,1, 251,0, 260,0],
  [0,1, 2,0, 260,0],
  [0,1, 1,2, 2,3, 3,4, 4,5, 5,6, 6,7, 7,8, 35,8, 36,7, 55,7, 56,6, 80,6, 81,5, 110,5, 111,4, 140,4, 141,3, 170,3, 171,2, 210,2, 211,1, 240,1, 241,0, 260,0],
  [0,1, 1,2, 80,2, 81,1, 160,1, 161,0, 260,0],
  [0,1, 1,2, 3,2, 4,3, 6,3, 7,4, 9,4, 10,5, 12,5, 13,6, 15,6, 16,7, 18,7, 19,8, 21,8, 22,9, 24,9, 25,10, 27,10, 28,9, 30,9, 31,10, 33,10, 34,11, 36,11, 37,10, 39,10, 40,9, 42,9, 43,8, 45,8, 46,7, 48,7, 49,6, 52,6, 53,5, 56,5, 57,4, 60,4, 61,3, 66,3, 67,2, 74,2, 75,1, 84,1, 85,0, 260,0],
  [0,1, 1,2, 2,3, 4,3, 5,4, 7,4, 8,5, 10,5, 11,6, 13,6, 14,7, 16,7, 17,8, 19,8, 20,9, 22,9, 23,10, 25,10, 26,11, 28,11, 29,12, 31,12, 32,13, 34,13, 35,14, 37,14, 38,15, 40,15, 41,14, 43,14, 44,13, 46,13, 47,12, 49,12, 50,11, 52,11, 53,10, 55,10, 56,9, 58,9, 59,8, 61,8, 62,7, 64,7, 65,6, 67,6, 68,5, 71,5, 72,4, 75,4, 76,3, 80,3, 81,2, 86,2, 87,1, 93,1, 94,0, 260,0],
  [0,1, 2,1, 3,2, 5,2, 6,3, 8,3, 9,4, 11,4, 12,5, 14,5, 15,6, 17,6, 18,7, 20,7, 21,8, 23,8, 24,7, 26,7, 27,8, 29,8, 30,9, 32,9, 33,10, 35,10, 36,11, 38,11, 39,12, 41,12, 42,11, 44,11, 45,10, 47,10, 48,11, 50,11, 51,10, 53,10, 54,9, 56,9, 57,8, 59,8, 60,7, 62,7, 63,6, 65,6, 66,5, 69,5, 70,4, 74,4, 75,3, 80,3, 81,2, 88,2, 89,1, 100,1, 101,0, 260,0],
  [0,1, 1,2, 2,3, 3,4, 4,5, 6,5, 7,6, 9,6, 10,7, 12,7, 13,8, 15,8, 16,9, 18,9, 19,10, 21,10, 22,11, 24,11, 25,12, 27,12, 28,13, 30,13, 31,14, 33,14, 34,15, 36,15, 37,16, 38,17, 40,17, 41,16, 43,16, 44,15, 46,15, 47,14, 49,14, 50,13, 52,13, 53,12, 55,12, 56,11, 58,11, 59,10, 61,10, 62,9, 64,9, 65,8, 67,8, 68,7, 70,7, 71,6, 73,6, 74,5, 77,5, 78,4, 81,4, 82,3, 86,3, 87,2, 92,2, 93,1, 100,1, 101,0, 260,0],
  [0,1, 2,2, 4,2, 5,3, 7,3, 8,4, 10,4, 11,5, 13,5, 14,4, 16,4, 17,5, 19,5, 20,6, 22,6, 23,7, 25,7, 26,6, 28,6, 29,7, 31,7, 32,8, 34,8, 35,7, 37,7, 38,6, 40,6, 41,5, 43,5, 44,4, 47,4, 48,3, 52,3, 53,2, 58,2, 59,1, 66,1, 67,0, 260,0],
  [0,1, 2,2, 5,2, 6,3, 9,3, 10,4, 13,4, 14,5, 17,5, 18,6, 21,6, 22,5, 25,5, 26,6, 29,6, 30,7, 33,7, 34,8, 37,8, 38,7, 41,7, 42,8, 45,8, 46,9, 49,9, 50,8, 53,8, 54,9, 57,9, 58,8, 61,8, 62,7, 65,7, 66,8, 69,8, 70,9, 73,9, 74,8, 77,8, 78,7, 81,7, 82,6, 85,6, 86,7, 89,7, 90,6, 93,6, 94,5, 97,5, 98,6, 101,6, 102,5, 105,5, 106,4, 110,4, 111,3, 116,3, 117,2, 125,2, 126,1, 140,1, 141,0, 260,0],
  [0,1, 1,2, 3,2, 4,3, 6,3, 7,4, 9,4, 10,5, 12,5, 13,6, 15,6, 16,7, 18,7, 19,8, 21,8, 22,9, 24,9, 25,8, 27,8, 28,7, 30,7, 31,6, 33,6, 34,5, 36,5, 37,4, 40,4, 41,3, 45,3, 46,2, 52,2, 53,1, 62,1, 63,0, 260,0],
  [0,1, 1,2, 2,3, 3,4, 5,4, 6,5, 8,5, 9,6, 11,6, 12,7, 14,7, 15,8, 17,8, 18,9, 20,9, 21,10, 23,10, 24,11, 26,11, 27,12, 29,12, 30,13, 32,13, 33,14, 35,14, 36,13, 38,13, 39,12, 41,12, 42,13, 44,13, 45,12, 47,12, 48,11, 50,11, 51,10, 53,10, 54,9, 56,9, 57,8, 59,8, 60,7, 62,7, 63,6, 65,6, 66,5, 69,5, 70,4, 73,4, 74,3, 78,3, 79,2, 85,2, 86,1, 98,1, 99,0, 260,0],
  [0,1, 3,1, 4,2, 9,2, 10,3, 15,3, 16,4, 21,4, 22,5, 27,5, 28,6, 33,6, 34,5, 39,5, 40,6, 45,6, 46,7, 51,7, 52,8, 57,8, 58,7, 63,7, 64,8, 69,8, 70,9, 75,9, 76,8, 81,8, 82,9, 87,9, 88,10, 93,10, 94,9, 99,9, 100,8, 105,8, 106,7, 111,7, 112,8, 117,8, 118,7, 123,7, 124,6, 129,6, 130,5, 135,5, 136,4, 141,4, 142,3, 150,3, 151,2, 165,2, 166,1, 190,1, 191,0, 260,0],
  [0,1, 1,2, 2,3, 3,4, 4,5, 5,6, 7,6, 8,7, 10,7, 11,8, 13,8, 14,9, 16,9, 17,10, 19,10, 20,11, 22,11, 23,12, 25,12, 26,11, 28,11, 29,10, 31,10, 32,9, 34,9, 35,8, 37,8, 38,7, 40,7, 41,6, 43,6, 44,5, 47,5, 48,4, 51,4, 52,3, 56,3, 57,2, 62,2, 63,1, 70,1, 71,0, 260,0],
  [0,1, 2,2, 4,2, 5,3, 7,3, 8,4, 10,4, 11,5, 13,5, 14,6, 16,6, 17,7, 19,7, 20,8, 22,8, 23,9, 25,9, 26,10, 28,10, 29,11, 31,11, 32,12, 34,12, 35,13, 37,13, 38,14, 40,14, 41,15, 43,15, 44,16, 46,16, 47,15, 49,15, 50,14, 52,14, 53,13, 55,13, 56,12, 58,12, 59,11, 61,11, 62,10, 64,10, 65,9, 67,9, 68,8, 70,8, 71,7, 73,7, 74,6, 77,6, 78,5, 81,5, 82,4, 86,4, 87,3, 92,3, 93,2, 100,2, 101,1, 112,1, 113,0, 260,0],
  [0,1, 2,1, 3,2, 8,2, 9,3, 14,3, 15,4, 20,4, 21,3, 26,3, 27,4, 32,4, 33,5, 38,5, 39,6, 44,6, 45,5, 50,5, 51,6, 56,6, 57,7, 62,7, 63,6, 68,6, 69,5, 74,5, 75,6, 80,6, 81,5, 86,5, 87,4, 92,4, 93,5, 98,5, 99,4, 104,4, 105,3, 112,3, 113,4, 118,4, 119,3, 126,3, 127,2, 140,2, 141,1, 165,1, 166,0, 260,0],
  [0,1, 1,2, 2,3, 3,4, 4,5, 5,6, 6,7, 7,8, 9,8, 10,9, 12,9, 13,10, 15,10, 16,11, 18,11, 19,10, 21,10, 22,9, 24,9, 25,8, 27,8, 28,7, 30,7, 31,6, 33,6, 34,5, 36,5, 37,4, 40,4, 41,3, 44,3, 45,2, 50,2, 51,1, 56,1, 57,0, 260,0],
  [0,1, 1,2, 3,2, 4,3, 5,4, 7,4, 8,5, 9,6, 11,6, 12,7, 13,8, 15,8, 16,9, 17,10, 19,10, 20,11, 21,12, 23,12, 24,13, 26,13, 27,14, 29,14, 30,15, 32,15, 33,16, 35,16, 36,17, 37,16, 39,16, 40,15, 42,15, 43,14, 45,14, 46,13, 48,13, 49,12, 51,12, 52,11, 54,11, 55,10, 57,10, 58,9, 60,9, 61,8, 63,8, 64,7, 66,7, 67,6, 70,6, 71,5, 74,5, 75,4, 78,4, 79,3, 84,3, 85,2, 90,2, 91,1, 104,1, 105,0, 260,0],
  [0,1, 2,2, 4,2, 5,3, 7,3, 8,4, 10,4, 11,5, 13,5, 14,6, 16,6, 17,7, 19,7, 20,6, 22,6, 23,5, 25,5, 26,4, 29,4, 30,3, 34,3, 35,2, 40,2, 41,1, 46,1, 47,0, 260,0],
  [0,1, 2,2, 5,2, 6,3, 10,3, 11,4, 15,4, 16,5, 20,5, 21,6, 25,6, 26,7, 30,7, 31,8, 35,8, 36,9, 40,9, 41,10, 45,10, 46,11, 50,11, 51,10, 55,10, 56,11, 60,11, 61,10, 65,10, 66,9, 70,9, 71,10, 75,10, 76,9, 80,9, 81,8, 85,8, 86,9, 90,9, 91,8, 95,8, 96,7, 100,7, 101,6, 105,6, 106,5, 110,5, 111,4, 116,4, 117,3, 122,3, 123,2, 130,2, 131,1, 150,1, 151,0, 260,0],
  [0,1, 1,2, 3,2, 4,3, 6,3, 7,4, 9,4, 10,5, 12,5, 13,6, 15,6, 16,7, 18,7, 19,8, 21,8, 22,9, 24,9, 25,10, 27,10, 28,11, 30,11, 31,12, 33,12, 34,11, 36,11, 37,12, 39,12, 40,13, 42,13, 43,12, 45,12, 46,11, 48,11, 49,10, 51,10, 52,9, 54,9, 55,8, 57,8, 58,7, 60,7, 61,6, 64,6, 65,5, 68,5, 69,4, 72,4, 73,3, 78,3, 79,2, 86,2, 87,1, 96,1, 97,0, 260,0],
  [0,1, 2,2, 3,3, 5,3, 6,4, 8,4, 9,5, 11,5, 12,6, 14,6, 15,7, 17,7, 18,6, 20,6, 21,7, 23,7, 24,8, 26,8, 27,7, 29,7, 30,6, 32,6, 33,5, 35,5, 36,4, 39,4, 40,3, 44,3, 45,2, 50,2, 51,1, 58,1, 59,0, 260,0],
  [0,1, 1,2, 3,2, 4,3, 7,3, 8,4, 11,4, 12,5, 15,5, 16,6, 19,6, 20,7, 23,7, 24,6, 27,6, 28,7, 31,7, 32,8, 35,8, 36,7, 39,7, 40,8, 43,8, 44,9, 47,9, 48,8, 51,8, 52,7, 55,7, 56,8, 59,8, 60,7, 63,7, 64,6, 67,6, 68,7, 71,7, 72,6, 75,6, 76,5, 79,5, 80,6, 83,6, 84,5, 88,5, 89,4, 93,4, 94,5, 98,5, 99,4, 104,4, 105,3, 110,3, 111,2, 118,2, 119,1, 130,1, 131,0, 260,0],
  [0,1, 1,2, 2,3, 3,4, 4,5, 5,6, 7,6, 8,7, 10,7, 11,8, 13,8, 14,9, 16,9, 17,10, 19,10, 20,11, 22,11, 23,12, 25,12, 26,13, 28,13, 29,14, 31,14, 32,15, 34,15, 35,16, 37,16, 38,15, 40,15, 41,14, 43,14, 44,13, 46,13, 47,12, 49,12, 50,11, 52,11, 53,10, 55,10, 56,9, 58,9, 59,8, 61,8, 62,7, 64,7, 65,6, 67,6, 68,5, 71,5, 72,4, 75,4, 76,3, 80,3, 81,2, 86,2, 87,1, 95,1, 96,0, 260,0],
  [0,1, 2,1, 3,2, 6,2, 7,3, 9,3, 10,4, 12,4, 13,5, 15,5, 16,6, 18,6, 19,7, 21,7, 22,8, 24,8, 25,9, 27,9, 28,10, 30,10, 31,11, 33,11, 34,12, 36,12, 37,13, 39,13, 40,14, 42,14, 43,13, 45,13, 46,12, 48,12, 49,13, 51,13, 52,12, 54,12, 55,11, 57,11, 58,10, 60,10, 61,9, 63,9, 64,8, 66,8, 67,7, 69,7, 70,6, 72,6, 73,5, 76,5, 77,4, 80,4, 81,3, 86,3, 87,2, 94,2, 95,1, 106,1, 107,0, 260,0],
  [0,1, 2,2, 6,2, 7,3, 11,3, 12,4, 16,4, 17,5, 21,5, 22,4, 26,4, 27,5, 31,5, 32,6, 36,6, 37,5, 41,5, 42,6, 46,6, 47,7, 51,7, 52,6, 56,6, 57,7, 61,7, 62,6, 66,6, 67,5, 71,5, 72,6, 76,6, 77,7, 81,7, 82,6, 86,6, 87,5, 91,5, 92,6, 96,6, 97,5, 101,5, 102,4, 108,4, 109,5, 114,5, 115,4, 120,4, 121,3, 128,3, 129,4, 134,4, 135,3, 142,3, 143,2, 152,2, 153,1, 168,1, 169,0, 260,0],
  [0,1, 1,2, 2,3, 3,4, 5,4, 6,5, 8,5, 9,6, 10,7, 12,7, 13,8, 14,9, 16,9, 17,10, 19,10, 20,11, 22,11, 23,10, 25,10, 26,9, 28,9, 29,8, 31,8, 32,7, 34,7, 35,6, 37,6, 38,5, 40,5, 41,4, 44,4, 45,3, 48,3, 49,2, 53,2, 54,1, 60,1, 61,0, 260,0],
  [0,1, 2,2, 4,2, 5,3, 6,4, 8,4, 9,5, 11,5, 12,6, 13,7, 15,7, 16,8, 18,8, 19,9, 20,10, 22,10, 23,11, 25,11, 26,12, 28,12, 29,13, 31,13, 32,14, 34,14, 35,15, 37,15, 38,16, 40,16, 41,17, 43,17, 44,16, 46,16, 47,15, 49,15, 50,14, 52,14, 53,13, 55,13, 56,12, 58,12, 59,11, 61,11, 62,10, 64,10, 65,9, 67,9, 68,8, 70,8, 71,7, 73,7, 74,6, 77,6, 78,5, 81,5, 82,4, 85,4, 86,3, 90,3, 91,2, 96,2, 97,1, 104,1, 105,0, 260,0],
  [0,1, 3,1, 4,2, 8,2, 9,3, 13,3, 14,4, 18,4, 19,5, 23,5, 24,6, 28,6, 29,7, 33,7, 34,8, 38,8, 39,9, 43,9, 44,10, 48,10, 49,11, 53,11, 54,12, 58,12, 59,11, 63,11, 64,12, 68,12, 69,11, 73,11, 74,10, 78,10, 79,11, 83,11, 84,10, 88,10, 89,9, 93,9, 94,8, 98,8, 99,7, 103,7, 104,6, 108,6, 109,5, 113,5, 114,4, 119,4, 120,3, 126,3, 127,2, 135,2, 136,1, 150,1, 151,0, 260,0],
  [0,1, 1,2, 2,3, 4,3, 5,4, 7,4, 8,5, 10,5, 11,6, 13,6, 14,7, 16,7, 17,6, 19,6, 20,5, 22,5, 23,4, 25,4, 26,3, 29,3, 30,2, 34,2, 35,1, 40,1, 41,0, 260,0],
  [0,1, 1,2, 2,3, 3,4, 4,5, 5,6, 6,7, 8,7, 9,8, 11,8, 12,9, 14,9, 15,10, 17,10, 18,11, 20,11, 21,12, 23,12, 24,13, 26,13, 27,14, 29,14, 30,15, 32,15, 33,16, 35,16, 36,15, 38,15, 39,14, 41,14, 42,15, 44,15, 45,14, 47,14, 48,13, 50,13, 51,12, 53,12, 54,11, 56,11, 57,10, 59,10, 60,9, 62,9, 63,8, 65,8, 66,7, 68,7, 69,6, 72,6, 73,5, 76,5, 77,4, 80,4, 81,3, 85,3, 86,2, 92,2, 93,1, 100,1, 101,0, 260,0],
  [0,1, 2,1, 3,2, 10,2, 11,3, 20,3, 21,4, 30,4, 31,5, 40,5, 41,4, 50,4, 51,5, 60,5, 61,4, 70,4, 71,3, 80,3, 81,4, 90,4, 91,3, 105,3, 106,2, 120,2, 121,3, 130,3, 131,2, 155,2, 156,1, 195,1, 196,0, 260,0],
  [0,1, 1,2, 3,2, 4,3, 5,4, 7,4, 8,5, 9,6, 11,6, 12,7, 14,7, 15,8, 17,8, 18,9, 20,9, 21,10, 23,10, 24,11, 26,11, 27,12, 29,12, 30,11, 32,11, 33,10, 35,10, 36,11, 38,11, 39,10, 41,10, 42,9, 44,9, 45,8, 47,8, 48,7, 50,7, 51,8, 53,8, 54,7, 56,7, 57,6, 60,6, 61,5, 64,5, 65,4, 68,4, 69,3, 73,3, 74,2, 80,2, 81,1, 90,1, 91,0, 260,0],
  [0,1, 2,2, 3,3, 4,4, 5,5, 6,6, 7,7, 8,8, 9,9, 10,10, 12,10, 13,11, 14,12, 16,12, 17,13, 19,13, 20,14, 22,14, 23,15, 25,15, 26,16, 28,16, 29,17, 31,17, 32,16, 34,16, 35,15, 37,15, 38,14, 40,14, 41,13, 43,13, 44,12, 46,12, 47,11, 49,11, 50,10, 52,10, 53,9, 55,9, 56,8, 58,8, 59,7, 61,7, 62,6, 65,6, 66,5, 69,5, 70,4, 73,4, 74,3, 78,3, 79,2, 84,2, 85,1, 92,1, 93,0, 260,0],
  [0,1, 2,2, 5,2, 6,3, 9,3, 10,4, 13,4, 14,5, 17,5, 18,6, 21,6, 22,7, 25,7, 26,8, 29,8, 30,9, 33,9, 34,10, 37,10, 38,9, 41,9, 42,10, 45,10, 46,11, 49,11, 50,12, 53,12, 54,11, 57,11, 58,12, 61,12, 62,13, 65,13, 66,12, 69,12, 70,13, 73,13, 74,12, 77,12, 78,11, 81,11, 82,12, 85,12, 86,11, 89,11, 90,10, 93,10, 94,9, 97,9, 98,8, 101,8, 102,7, 105,7, 106,6, 110,6, 111,5, 115,5, 116,4, 121,4, 122,3, 128,3, 129,2, 136,2, 137,1, 150,1, 151,0, 260,0],
  [0,1, 1,0, 260,0],
  [0,1, 1,2, 2,3, 3,4, 4,5, 5,6, 6,7, 7,8, 8,9, 40,9, 41,8, 60,8, 61,7, 80,7, 81,6, 100,6, 101,5, 120,5, 121,4, 140,4, 141,3, 165,3, 166,2, 200,2, 201,1, 238,1, 239,0, 260,0],
  [0,1, 1,2, 2,3, 3,4, 4,5, 5,6, 6,7, 45,7, 46,6, 65,6, 66,5, 85,5, 86,4, 115,4, 116,3, 150,3, 151,2, 180,2, 181,1, 220,1, 221,0, 260,0],
  [0,1, 1,2, 2,3, 3,4, 4,5, 5,6, 55,6, 56,5, 75,5, 76,4, 100,4, 101,3, 135,3, 136,2, 175,2, 176,1, 205,1, 206,0, 260,0],
  [0,1, 2,2, 4,2, 5,3, 6,4, 8,4, 9,5, 10,6, 12,6, 13,7, 14,8, 16,8, 17,9, 18,10, 20,10, 21,11, 22,12, 24,12, 25,13, 26,14, 28,14, 29,15, 30,16, 32,16, 33,17, 34,18, 36,18, 37,17, 39,17, 40,16, 42,16, 43,15, 45,15, 46,14, 48,14, 49,13, 51,13, 52,12, 54,12, 55,11, 57,11, 58,10, 60,10, 61,9, 63,9, 64,8, 66,8, 67,7, 69,7, 70,6, 73,6, 74,5, 77,5, 78,4, 81,4, 82,3, 86,3, 87,2, 92,2, 93,1, 100,1, 101,0, 260,0]
];

const RED = '#B50A22', RED_FAINT = 'rgba(195, 25, 50, 0.35)';
const BLUE = '#1B5FA3', BLUE_FAINT = 'rgba(40, 100, 165, 0.31)';
const FONT = '"Liberation Sans", Arial, Helvetica, sans-serif';

function runPoints(flat) {
  const pts = [];
  for (let i = 0; i < flat.length; i += 2) pts.push([flat[i], flat[i + 1] / POP]);
  return pts;
}
function zip(ws, vs) { return ws.map((w, i) => [w, vs[i]]); }

function xAxisFor(idx) {
  return {
    gridIndex: idx, type: 'value', min: -13, max: 273,
    name: 'Time (weeks)', nameLocation: 'middle', nameGap: 28, nameMoveOverlap: false,
    nameTextStyle: { fontFamily: FONT, fontWeight: 'bold', fontSize: 16, color: '#000', verticalAlign: 'middle' },
    axisLine: { show: true, onZero: false, lineStyle: { color: '#333', width: 1.1 } },
    axisTick: { show: true, length: 4, customValues: xTicks, lineStyle: { color: '#333', width: 1.1 } },
    axisLabel: { customValues: xTicks, margin: 8, fontFamily: FONT, fontSize: 13.5, color: '#4D4D4D' },
    splitLine: { show: false }
  };
}
function yAxisFor(idx) {
  return {
    gridIndex: idx, type: 'value', min: -0.0087, max: 0.182,
    name: 'Proportion progressively infected', nameLocation: 'middle', nameRotate: 90, nameGap: 44,
    nameMoveOverlap: false,
    nameTextStyle: { fontFamily: FONT, fontWeight: 'bold', fontSize: 16.5, color: '#000', verticalAlign: 'middle' },
    axisLine: { show: true, onZero: false, lineStyle: { color: '#333', width: 1.1 } },
    axisTick: { show: true, length: 4, customValues: yTicks, lineStyle: { color: '#333', width: 1.1 } },
    axisLabel: { customValues: yTicks, margin: 7.5, fontFamily: FONT, fontSize: 13.5, color: '#4D4D4D',
                 formatter: v => v.toFixed(2) },
    splitLine: { show: false }
  };
}

function runSeries(runs, idx, color) {
  return runs.map(r => ({
    type: 'line', xAxisIndex: idx, yAxisIndex: idx, data: runPoints(r),
    symbol: 'none', silent: true, z: 2,
    lineStyle: { color: color, width: 1.1 }
  }));
}
function meanSeries(ws, vs, idx, color, marks) {
  return {
    type: 'line', xAxisIndex: idx, yAxisIndex: idx, data: zip(ws, vs),
    symbol: 'none', silent: true, z: 4,
    lineStyle: { color: color, width: 4.6, cap: 'round', join: 'round' },
    markLine: {
      symbol: 'none', silent: true, label: { show: false },
      lineStyle: { color: '#111', width: 1.1, type: [4, 3] },
      data: marks.map(w => ({ xAxis: w }))
    }
  };
}

const chart = echarts.init(document.getElementById('chart'), null, { renderer: 'canvas' });
chart.setOption({
  animation: false,
  backgroundColor: '#fff',
  grid: [
    { left: 66, top: 10, width: 1034, height: 373, outerBoundsMode: 'none' },
    { left: 66, top: 433, width: 1034, height: 373, outerBoundsMode: 'none' }
  ],
  xAxis: [xAxisFor(0), xAxisFor(1)],
  yAxis: [yAxisFor(0), yAxisFor(1)],
  graphic: [
    { type: 'text', left: 14, top: 10, style: { text: 'A', font: 'bold 16px ' + FONT, fill: '#000' } },
    { type: 'text', left: 14, top: 432, style: { text: 'B', font: 'bold 16px ' + FONT, fill: '#000' } }
  ],
  series: [].concat(
    runSeries(runsA, 0, RED_FAINT),
    [meanSeries(meanWeeksA, meanValuesA, 0, RED, markWeeksA)],
    runSeries(runsB, 1, BLUE_FAINT),
    [meanSeries(meanWeeksB, meanValuesB, 1, BLUE, markWeeksB)]
  )
});
</script>
</body>
</html>
